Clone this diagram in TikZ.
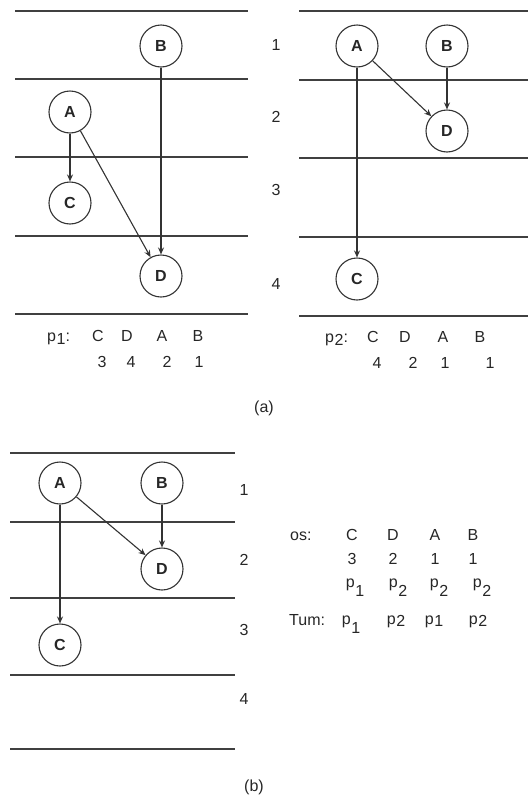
\documentclass[tikz,border=0pt]{standalone}
\usepackage{fontspec}
\setmainfont{Liberation Sans}
\usetikzlibrary{arrows.meta}
% p with a lowered index: \psb{index}{drop}
\newcommand{\psb}[2]{p\kern0.6pt\raisebox{-#2}{#1}}
\begin{document}
\begin{tikzpicture}[x=1pt,y=-1pt,
  state/.style={circle,draw=black!80,line width=1.1pt,minimum size=42pt,inner sep=0pt,
    text=black!85,font=\fontsize{16}{16}\selectfont\bfseries},
  rule/.style={line width=1.2pt,draw=black!75},
  edge/.style={line width=1.1pt,draw=black!80,-{Stealth[length=7pt,width=6pt]}},
  txt/.style={anchor=base,inner sep=0pt,text=black!85,font=\fontsize{16}{18}\selectfont},
  rowno/.style={anchor=center,inner sep=0pt,text=black!85,font=\fontsize{16}{18}\selectfont},
]
\useasboundingbox (0,0) rectangle (528,809);

% ---------- (a) left schedule ----------
\foreach \y in {11,79,157,236,314} \draw[rule] (15,\y) -- (248,\y);
\node[state] (lA) at (70,112) {A};
\node[state] (lB) at (161,46) {B};
\node[state] (lC) at (70,203) {C};
\node[state] (lD) at (161,276) {D};
\draw[edge] (lA) -- (lC);
\draw[edge] (lA) -- (lD);
\draw[edge] (lB) -- (lD);

% level numbers between the two schedules
\node[rowno] (n1) at (276,45) {1};
\node[rowno] (n2) at (276,117) {2};
\node[rowno] (n3) at (276,190) {3};
\node[rowno] (n4) at (276,284) {4};

% ---------- (a) right schedule ----------
\foreach \y in {11,80,158,237,316} \draw[rule] (299,\y) -- (528,\y);
\node[state] (rA) at (357,46) {A};
\node[state] (rB) at (447,46) {B};
\node[state] (rD) at (447,131) {D};
\node[state] (rC) at (357,279) {C};
\draw[edge] (rA) -- (rC);
\draw[edge] (rA) -- (rD);
\draw[edge] (rB) -- (rD);

% level tables under the schedules
\node[txt,anchor=base west] (p1) at (47,341) {\psb{1}{3pt}:};
\node[txt] (p1C) at (98,341) {C};
\node[txt] (p1D) at (127,341) {D};
\node[txt] (p1A) at (162,341) {A};
\node[txt] (p1B) at (198,341) {B};
\node[txt] (p1c) at (102,367) {3};
\node[txt] (p1d) at (131,367) {4};
\node[txt] (p1a) at (167,367) {2};
\node[txt] (p1b) at (199,367) {1};

\node[txt,anchor=base west] (p2) at (325,342) {\psb{2}{3pt}:};
\node[txt] (p2C) at (373,342) {C};
\node[txt] (p2D) at (405,342) {D};
\node[txt] (p2A) at (443,342) {A};
\node[txt] (p2B) at (480,342) {B};
\node[txt] (p2c) at (377,368) {4};
\node[txt] (p2d) at (413,368) {2};
\node[txt] (p2a) at (445,368) {1};
\node[txt] (p2b) at (490,368) {1};

\node[rowno] (capa) at (264,408) {(a)};

% ---------- (b) merged schedule ----------
\foreach \y in {453,522,598,675,749} \draw[rule] (10,\y) -- (235,\y);
\node[state] (bA) at (60,483) {A};
\node[state] (bB) at (162,483) {B};
\node[state] (bD) at (162,569) {D};
\node[state] (bC) at (60,645) {C};
\draw[edge] (bA) -- (bC);
\draw[edge] (bA) -- (bD);
\draw[edge] (bB) -- (bD);

\node[rowno] (m1) at (244,490) {1};
\node[rowno] (m2) at (244,560) {2};
\node[rowno] (m3) at (244,630) {3};
\node[rowno] (m4) at (244,699) {4};

% assignment table
\node[txt,anchor=base west] (os) at (290,540) {os:};
\node[txt] (osC) at (352,540) {C};
\node[txt] (osD) at (393,540) {D};
\node[txt] (osA) at (435,540) {A};
\node[txt] (osB) at (473,540) {B};
\node[txt] (osc) at (352,564) {3};
\node[txt] (osd) at (393,564) {2};
\node[txt] (osa) at (435,564) {1};
\node[txt] (osb) at (473,564) {1};
\node[txt] (osPc) at (355,587) {\psb{1}{9pt}};
\node[txt] (osPd) at (398,587) {\psb{2}{9pt}};
\node[txt] (osPa) at (439,587) {\psb{2}{9pt}};
\node[txt] (osPb) at (482,587) {\psb{2}{9pt}};
\node[txt,anchor=base west] (tum) at (289,625) {Tum:};
\node[txt] (tumc) at (351,624) {\psb{1}{9pt}};
\node[txt] (tumd) at (396,624) {\psb{2}{2pt}};
\node[txt] (tuma) at (434,624) {\psb{1}{2pt}};
\node[txt] (tumb) at (478,624) {\psb{2}{2pt}};

\node[rowno] (capb) at (254,787) {(b)};
\end{tikzpicture}
\end{document}
